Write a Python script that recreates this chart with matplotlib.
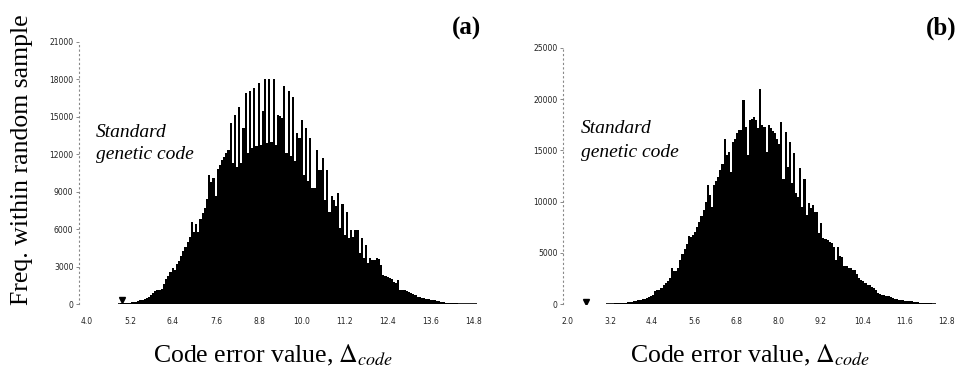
import matplotlib
matplotlib.use("Agg")
import matplotlib.pyplot as plt
import numpy as np

plt.rcParams["mathtext.fontset"] = "stix"

# histogram bins (width 0.06)
bin_w = 0.06

a_start = 4.86
a_counts = [
    60, 70, 80, 90, 110, 130, 150, 190, 220, 260,
    310, 360, 420, 520, 600, 720, 900, 1050, 1150, 1180,
    1250, 1600, 2000, 2300, 2550, 2900, 2750, 3200, 3450, 3850,
    4250, 4600, 5000, 5400, 6550, 5800, 6400, 5800, 6800, 7300,
    7700, 8450, 10350, 9750, 10100, 8650, 10800, 11150, 11550, 11800,
    12100, 12350, 14500, 11300, 15150, 11000, 15800, 11300, 14100, 16900,
    12100, 17030, 12500, 17300, 12650, 17700, 12750, 15450, 17980, 12900,
    18000, 13000, 17980, 12750, 15150, 15100, 14900, 17450, 12100, 17030,
    11850, 16600, 11450, 13700, 13300, 14750, 10350, 14100, 9850, 13300,
    9300, 9300, 12350, 10750, 10750, 11700, 8350, 10750, 7400, 8650,
    8350, 7900, 8900, 6100, 8000, 5550, 7400, 5300, 5950, 5400,
    5950, 5950, 4100, 5300, 3700, 4750, 3300, 3700, 3550, 3550,
    3700, 3650, 3150, 2350, 2250, 2200, 2100, 2050, 1820, 1700,
    1950, 1150, 1150, 1150, 1050, 1000, 880, 850, 750, 610,
    560, 530, 480, 430, 420, 380, 350, 330, 280, 230,
    210, 170, 140, 130, 120, 100, 80, 70, 50, 40,
    30, 30, 30, 30, 30, 30, 30,
]

b_start = 3.08
b_counts = [
    30, 40, 50, 60, 80, 90, 100, 110, 130, 150,
    190, 220, 250, 280, 330, 380, 430, 480, 560, 630,
    700, 850, 950, 1250, 1400, 1350, 1600, 1850, 2100, 2300,
    2550, 3500, 3200, 3250, 3500, 4300, 4950, 5400, 5900, 6650,
    6600, 6750, 7050, 7500, 8000, 8600, 9200, 10000, 11600, 10650,
    9500, 11600, 12000, 12450, 13100, 13700, 16150, 14550, 14850, 12900,
    15850, 16150, 16650, 16950, 17000, 19900, 17300, 14550, 17950, 18100,
    18250, 17950, 17150, 20950, 17450, 17300, 14850, 17450, 17150, 16900,
    16650, 16150, 15650, 17800, 12250, 16800, 13400, 15850, 11800, 14700,
    10800, 10500, 13250, 9500, 12250, 8700, 9850, 9350, 9700, 9000,
    9000, 6900, 7950, 6450, 6400, 6300, 6100, 6000, 5600, 4300,
    5600, 4700, 4650, 3700, 3700, 3500, 3500, 3350, 3300, 3000,
    2550, 2400, 2300, 2050, 1900, 1850, 1700, 1600, 1400, 1150,
    1050, 950, 900, 850, 780, 700, 620, 560, 500, 440,
    420, 380, 340, 330, 310, 280, 230, 200, 190, 170,
    150, 120, 100, 90, 80, 60, 50,
]

# standard genetic code value (triangle marker)
sgc_a = 4.98
sgc_b = 2.53
marker_h_a = 380
marker_h_b = 260

a_xticks = [4.0, 5.2, 6.4, 7.6, 8.8, 10.0, 11.2, 12.4, 13.6, 14.8]
b_xticks = [2.0, 3.2, 4.4, 5.6, 6.8, 8.0, 9.2, 10.4, 11.6, 12.8]
a_yticks = [0, 3000, 6000, 9000, 12000, 15000, 18000, 21000]
b_yticks = [0, 5000, 10000, 15000, 20000, 25000]


def draw_panel(ax, start, counts, sgc, mh, xticks, yticks, xlim):
    edges = start + bin_w * np.arange(len(counts) + 1)
    ax.stairs(counts, edges, fill=True, color="black", linewidth=0)
    ax.hlines(0, edges[0], edges[-1], color="black", lw=1.2)
    ax.plot([sgc], [mh], marker="v", color="black", markersize=4, linestyle="none")

    ax.set_xlim(*xlim)
    ax.set_ylim(0, yticks[-1])
    ax.set_xticks(xticks)
    ax.set_xticklabels(["%.1f" % t for t in xticks])
    ax.set_yticks(yticks)
    ax.set_yticklabels([str(t) for t in yticks])

    for s in ["top", "right", "bottom"]:
        ax.spines[s].set_visible(False)
    ax.spines["left"].set_color("#888888")
    ax.spines["left"].set_linewidth(0.8)
    ax.spines["left"].set_linestyle((0, (1, 3)))

    ax.tick_params(axis="x", length=0, pad=9, labelsize=5.5, labelcolor="#222222")
    ax.tick_params(axis="y", length=2, width=0.7, color="#888888", pad=2,
                   labelsize=5.5, labelcolor="#222222")


fig = plt.figure(figsize=(9.56, 3.67), dpi=100)

ax1 = fig.add_axes([0.0826, 0.1708, 0.4174, 0.7155])
draw_panel(ax1, a_start, a_counts, sgc_a, marker_h_a, a_xticks, a_yticks, (3.777, 14.912))

ax2 = fig.add_axes([0.5889, 0.1708, 0.4048, 0.6992])
draw_panel(ax2, b_start, b_counts, sgc_b, marker_h_b, b_xticks, b_yticks, (1.86, 12.90))

serif = "Liberation Serif"
fig.text(0.023, 0.564, "Freq. within random sample", rotation=90, ha="center",
         va="center", family=serif, fontsize=18.5)

xlab = r"Code error value, $\Delta_{code}$"
fig.text(0.286, 0.0136, xlab, ha="center", va="baseline", family=serif, fontsize=18.5)
fig.text(0.785, 0.0136, xlab, ha="center", va="baseline", family=serif, fontsize=18.5)

for x, y1, y2 in [(0.1004, 0.6275, 0.5668), (0.6077, 0.6368, 0.573)]:
    fig.text(x, y1, "Standard", style="italic", family=serif, fontsize=14, va="baseline")
    fig.text(x, y2, "genetic code", style="italic", family=serif, fontsize=14, va="baseline")

fig.text(0.473, 0.905, "(a)", weight="bold", family=serif, fontsize=18, va="baseline")
fig.text(0.968, 0.905, "(b)", weight="bold", family=serif, fontsize=18, va="baseline")

fig.savefig("out.png", dpi=100)
